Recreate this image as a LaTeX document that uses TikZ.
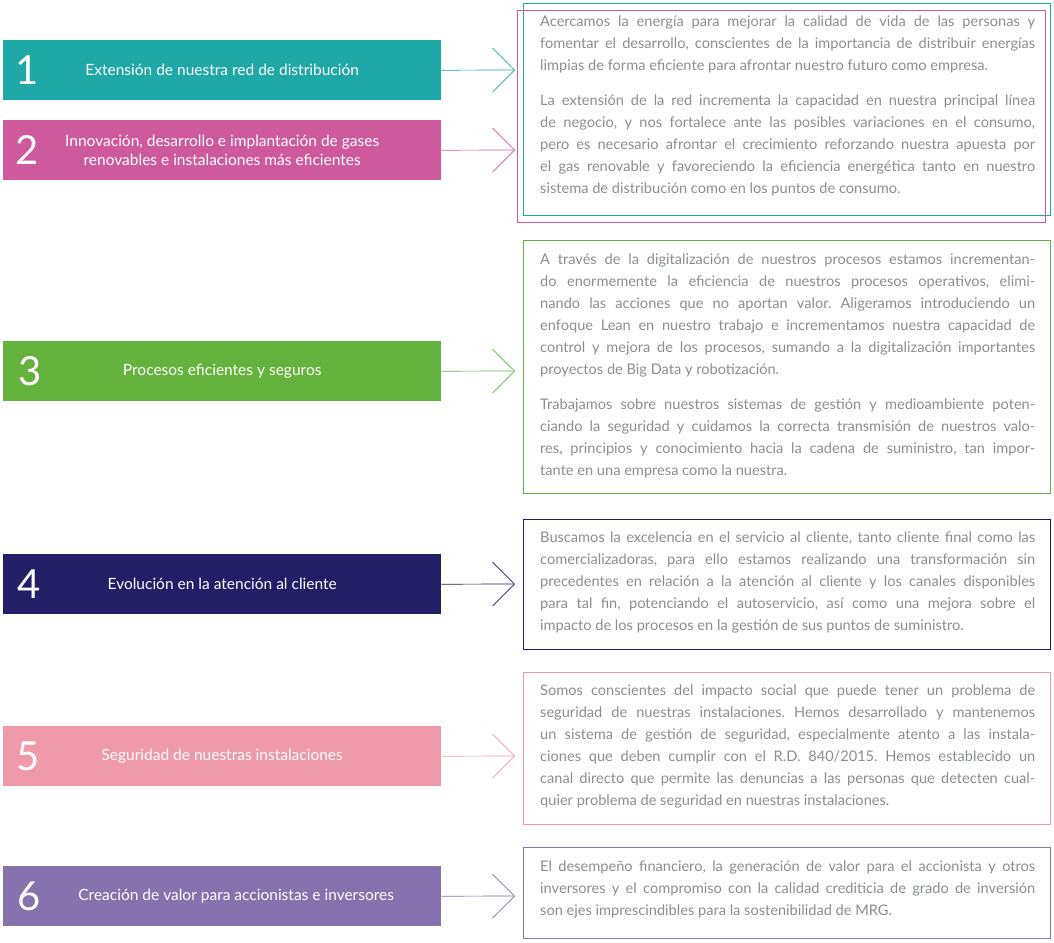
\documentclass[tikz,border=0pt]{standalone}
\usepackage{fontspec}
\setmainfont{Lato}
\frenchspacing
\usetikzlibrary{arrows.meta}
\definecolor{cA}{HTML}{1FA8A8}
\definecolor{cB}{HTML}{CE5A9C}
\definecolor{cC}{HTML}{64B33F}
\definecolor{cD}{HTML}{221F66}
\definecolor{cE}{HTML}{EF9AAB}
\definecolor{cF}{HTML}{8672AE}
\definecolor{txt}{HTML}{8A8F8C}
\tikzset{
 lbl/.style={minimum width=438pt,minimum height=60pt,inner sep=0pt,anchor=north west,text=white,font=\fontsize{15.5}{19}\selectfont,align=center},
 num/.style={text=white,font=\fontsize{40}{40}\selectfont,anchor=center},
 tbox/.style={anchor=north west,draw,line width=0.8pt,minimum width=527pt,inner sep=0pt},
 body/.style={anchor=north west,text=txt,text width=495pt,align=justify,inner sep=0pt,font=\fontsize{14.6}{22}\selectfont},
 conn/.style={line width=0.7pt,-{Straight Barb[length=22pt,width=44pt,line width=0.7pt]}}
}
\begin{document}
\begin{tikzpicture}[x=1pt,y=-1pt]
\useasboundingbox (0,0) rectangle (1054,942);
% left label boxes
\node[lbl,fill=cA] (l1) at (3,40) {Extensión de nuestra red de distribución};
\node[lbl,fill=cB] (l2) at (3,120) {Innovación, desarrollo e implantación de gases\\renovables e instalaciones más eficientes};
\node[lbl,fill=cC] (l3) at (3,341) {Procesos eficientes y seguros};
\node[lbl,fill=cD] (l4) at (3,554) {Evolución en la atención al cliente};
\node[lbl,fill=cE] (l5) at (3,726) {Seguridad de nuestras instalaciones};
\node[lbl,fill=cF] (l6) at (3,866) {\hspace*{28pt}Creación de valor para accionistas e inversores};
\node[num] (n1) at (27,70) {1};
\node[num] (n2) at (27,150) {2};
\node[num] (n3) at (30,371) {3};
\node[num] (n4) at (29,584) {4};
\node[num] (n5) at (28,756) {5};
\node[num] (n6) at (29,896) {6};
% right boxes
\node[tbox,draw=cB,minimum width=528pt,minimum height=212pt] (b2) at (517,10) {};
\node[tbox,draw=cA,minimum height=212pt] (b1) at (523,3) {};
\node[tbox,draw=cC,minimum height=253pt] (b3) at (523,240) {};
\node[tbox,draw=cD,minimum height=130pt] (b4) at (523,519) {};
\node[tbox,draw=cE,minimum height=152pt] (b5) at (523,672) {};
\node[tbox,draw=cF,minimum height=91pt] (b6) at (523,847) {};
% connectors
\coordinate (e1) at (515,70);\coordinate (e2) at (515,150);\coordinate (e3) at (515,371);
\coordinate (e4) at (515,584);\coordinate (e5) at (515,756);\coordinate (e6) at (515,896);
\draw[conn,cA] (l1.east) -- (e1);
\draw[conn,cB] (l2.east) -- (e2);
\draw[conn,cC] (l3.east) -- (e3);
\draw[conn,cD] (l4.east) -- (e4);
\draw[conn,cE] (l5.east) -- (e5);
\draw[conn,cF] (l6.east) -- (e6);
% texts
\node[body] (t1) at (540,16) {Acercamos la energía para mejorar la calidad de vida de las personas y\linebreak fomentar el desarrollo, conscientes de la importancia de distribuir energías\linebreak limpias de forma eficiente para afrontar nuestro futuro como empresa.\par\vspace{13pt}
La extensión de la red incrementa la capacidad en nuestra principal línea\linebreak de negocio, y nos fortalece ante las posibles variaciones en el consumo,\linebreak pero es necesario afrontar el crecimiento reforzando nuestra apuesta por\linebreak el gas renovable y favoreciendo la eficiencia energética tanto en nuestro\linebreak sistema de distribución como en los puntos de consumo.};
\node[body] (t3) at (540,254) {A través de la digitalización de nuestros procesos estamos incrementan-\linebreak do enormemente la eficiencia de nuestros procesos operativos, elimi-\linebreak nando las acciones que no aportan valor. Aligeramos introduciendo un\linebreak enfoque Lean en nuestro trabajo e incrementamos nuestra capacidad de\linebreak control y mejora de los procesos, sumando a la digitalización importantes\linebreak proyectos de Big Data y robotización.\par\vspace{13pt}
Trabajamos sobre nuestros sistemas de gestión y medioambiente poten-\linebreak ciando la seguridad y cuidamos la correcta transmisión de nuestros valo-\linebreak res, principios y conocimiento hacia la cadena de suministro, tan impor-\linebreak tante en una empresa como la nuestra.};
\node[body] (t4) at (540,532) {Buscamos la excelencia en el servicio al cliente, tanto cliente final como las\linebreak comercializadoras, para ello estamos realizando una transformación sin\linebreak precedentes en relación a la atención al cliente y los canales disponibles\linebreak para tal fin, potenciando el autoservicio, así como una mejora sobre el\linebreak impacto de los procesos en la gestión de sus puntos de suministro.};
\node[body] (t5) at (540,685) {Somos conscientes del impacto social que puede tener un problema de\linebreak seguridad de nuestras instalaciones. Hemos desarrollado y mantenemos\linebreak un sistema de gestión de seguridad, especialmente atento a las instala-\linebreak ciones que deben cumplir con el R.D. 840/2015. Hemos establecido un\linebreak canal directo que permite las denuncias a las personas que detecten cual-\linebreak quier problema de seguridad en nuestras instalaciones.};
\node[body] (t6) at (540,861) {El desempeño financiero, la generación de valor para el accionista y otros\linebreak inversores y el compromiso con la calidad crediticia de grado de inversión\linebreak son ejes imprescindibles para la sostenibilidad de MRG.};
\end{tikzpicture}
\end{document}
